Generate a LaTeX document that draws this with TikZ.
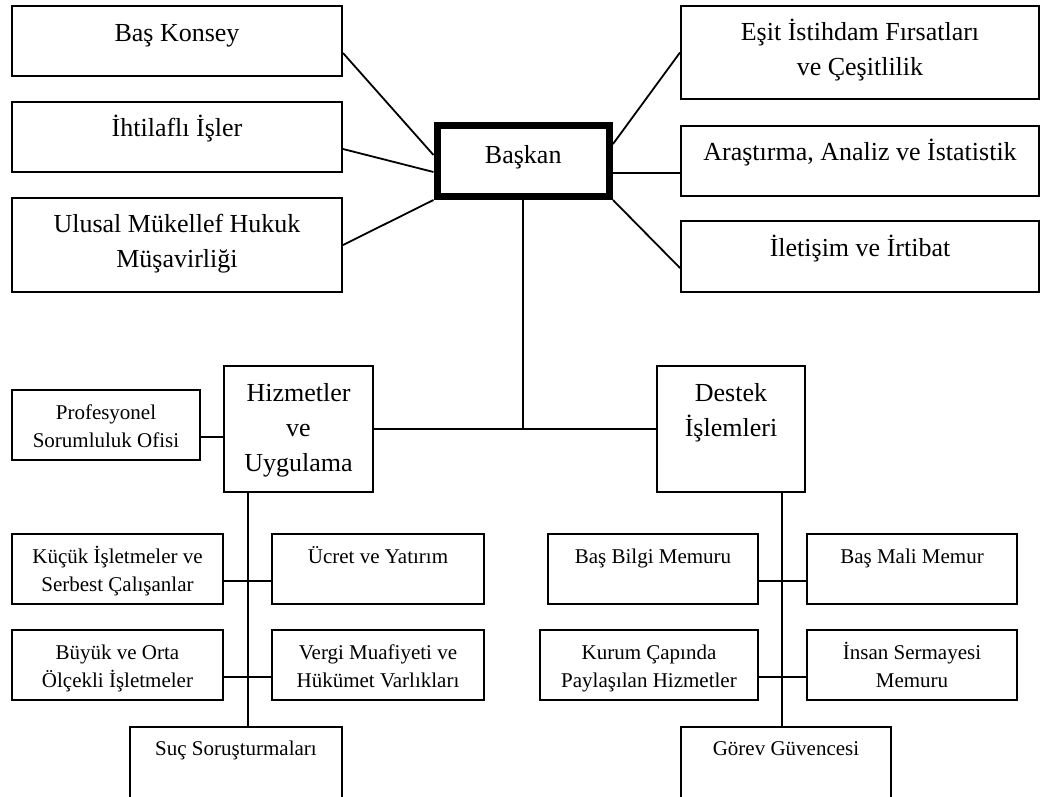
\documentclass[tikz,border=0pt]{standalone}
\usepackage{fontspec}
\setmainfont{Liberation Serif}

% Box with its text: name, x1, y1, x2, y2 (outer edges), text style, last baseline, text
\newcommand\orgbox[8]{%
  \node[box, minimum width={#4-#2-2}, minimum height={#5-#3-2}] (#1) at ({(#2+#4)/2},{(#3+#5)/2}) {};
  \node[#6] (#1-t) at ({(#2+#4)/2},#7) {#8};}

\begin{document}
\begin{tikzpicture}[x=1pt,y=-1pt,
  box/.style={draw, rectangle, line width=2pt, inner sep=0pt},
  big/.style={font=\fontsize{26}{35}\selectfont, align=center, anchor=base, inner sep=0pt},
  small/.style={font=\fontsize{21}{28}\selectfont, align=center, anchor=base, inner sep=0pt},
  link/.style={line width=1.8pt}]
\useasboundingbox (0,0) rectangle (1053,796);
\clip (0,0) rectangle (1053,796);

% head of the organisation
\node[draw, rectangle, line width=7pt, inner sep=0pt, minimum width=172.5, minimum height=71] (bsk) at (523.25,161) {};
\node[big] (bsk-t) at (523.25,163) {Başkan};

% offices attached to the head
\orgbox{bk}{11}{5}{343}{77}{big}{41}{Baş Konsey}
\orgbox{ih}{11}{101}{343}{173}{big}{136}{İhtilaflı İşler}
\orgbox{ul}{11}{197}{343}{293}{big}{267}{Ulusal Mükellef Hukuk\\Müşavirliği}
\orgbox{es}{680}{5}{1040}{100}{big}{75}{Eşit İstihdam Fırsatları\\ve Çeşitlilik}
\orgbox{ar}{680}{125}{1040}{197}{big}{160}{Araştırma, Analiz ve İstatistik}
\orgbox{il}{680}{220}{1040}{293}{big}{256}{İletişim ve İrtibat}

% the two main divisions
\orgbox{hz}{223}{365}{374}{493}{big}{471}{Hizmetler\\ve\\Uygulama}
\orgbox{de}{656}{365}{806}{493}{big}{436}{Destek\\İşlemleri}

% units of Hizmetler ve Uygulama
\orgbox{pr}{11}{389}{201}{461}{small}{447}{Profesyonel\\Sorumluluk Ofisi}
\orgbox{ku}{11}{533}{224}{605}{small}{591}{Küçük İşletmeler ve\\Serbest Çalışanlar}
\orgbox{uc}{271}{533}{485}{605}{small}{563}{Ücret ve Yatırım}
\orgbox{by}{11}{629}{224}{701}{small}{687}{Büyük ve Orta\\Ölçekli İşletmeler}
\orgbox{vg}{271}{629}{485}{701}{small}{687}{Vergi Muafiyeti ve\\Hükümet Varlıkları}
\orgbox{su}{129}{726}{343}{830}{small}{755}{Suç Soruşturmaları}

% units of Destek İşlemleri
\orgbox{bb}{547}{533}{759}{605}{small}{563}{Baş Bilgi Memuru}
\orgbox{bm}{806}{533}{1018}{605}{small}{563}{Baş Mali Memur}
\orgbox{kc}{539}{629}{759}{701}{small}{687}{Kurum Çapında\\Paylaşılan Hizmetler}
\orgbox{hc}{806}{629}{1018}{701}{small}{687}{İnsan Sermayesi\\Memuru}
\orgbox{gv}{680}{726}{892}{830}{small}{755}{Görev Güvencesi}

% links to the head
\draw[link] ([yshift=-12pt]bk.east) -- ([yshift=6pt]bsk.west);
\draw[link] ([yshift=-12pt]ih.east) -- ([yshift=-11pt]bsk.west);
\draw[link] (ul.east) -- (bsk.south west);
\draw[link] ([yshift=17pt]bsk.east) -- (es.west);
\draw[link] ([yshift=-12pt]bsk.east) -- ([yshift=-12pt]ar.west);
\draw[link] (bsk.south east) -- ([yshift=-11.5pt]il.west);

% trunk down to the divisions
\coordinate (j) at (bsk.south |- hz.east);
\draw[link] (bsk.south) -- (j);
\draw[link] (hz.east) -- (de.west);

% Hizmetler ve Uygulama branch
\draw[link] ([yshift=-12pt]pr.east) -- ([yshift=-8pt]hz.west);
\coordinate (hzd) at ([xshift=25pt]hz.south west);
\draw[link] (hzd) -- (hzd |- su.north);
\draw[link] ([yshift=-12pt]ku.east) -- ([yshift=-12pt]uc.west);
\draw[link] ([yshift=-12pt]by.east) -- ([yshift=-12pt]vg.west);

% Destek İşlemleri branch
\coordinate (ded) at ([xshift=-24pt]de.south east);
\draw[link] (ded) -- (ded |- gv.north);
\draw[link] ([yshift=-12pt]bb.east) -- ([yshift=-12pt]bm.west);
\draw[link] ([yshift=-12pt]kc.east) -- ([yshift=-12pt]hc.west);
\end{tikzpicture}
\end{document}
